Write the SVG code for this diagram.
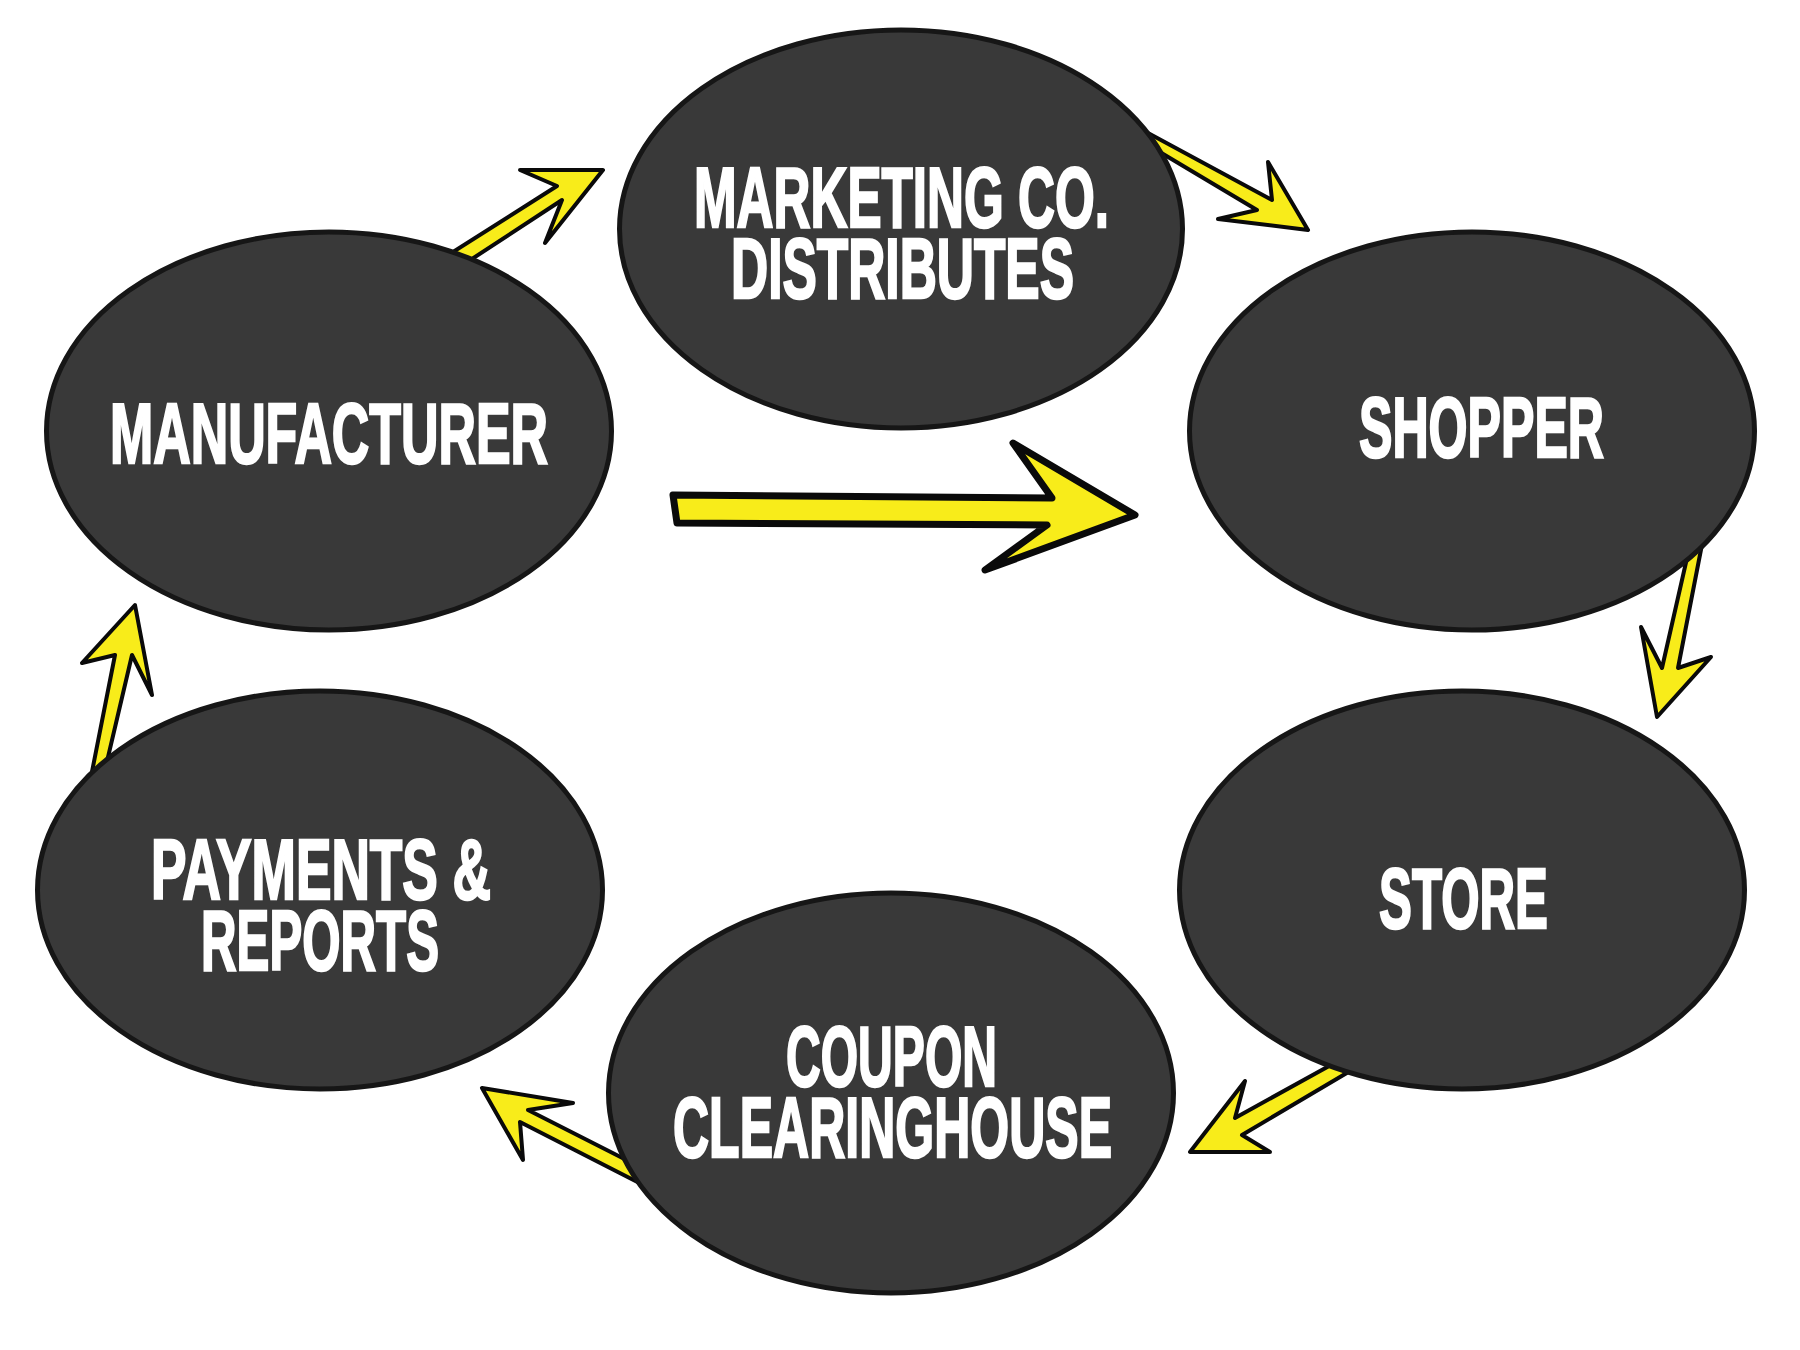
<svg xmlns="http://www.w3.org/2000/svg" width="1800" height="1350" viewBox="0 0 1800 1350">
<style>
.node ellipse{fill:#393939;stroke:#161616;stroke-width:5}
.node text{fill:#ffffff;stroke:#ffffff;stroke-width:2.5;font-family:"Liberation Sans","DejaVu Sans",Arial,sans-serif;font-weight:bold;font-size:86px}
.arr{fill:#f8ec1a;stroke:#0a0a0a;stroke-width:4;stroke-linejoin:round}
.big{stroke-width:7}
</style>
<rect width="1800" height="1350" fill="#ffffff"/>
<g id="connectors">
<polygon class="arr" points="603,170 520,170 557,186 434,264 449,274 562,200 545,243"/>
<polygon class="arr" points="1135,126 1272,200 1268,162 1308,230 1218,219 1257,210 1148,145"/>
<polygon class="arr big" points="673,495 1052,498 1013,443 1135,515 985,570 1047,525 677,523"/>
<polygon class="arr" points="1705,529 1678,668 1711,657 1657,717 1641,627 1662,668 1692,536"/>
<polygon class="arr" points="1349,1055 1235,1118 1245,1081 1190,1152 1270,1152 1242,1135 1362,1064"/>
<polygon class="arr" points="482,1088 573,1103 528,1110 652,1173 655,1191 520,1122 523,1160"/>
<polygon class="arr" points="135,605 152,695 132,655 101,787 89,787 115,655 82,663"/>
</g>
<g id="marketing" class="node">
<ellipse cx="901" cy="229" rx="281.5" ry="199"/>
<text x="694" y="227" textLength="415" lengthAdjust="spacingAndGlyphs">MARKETING CO.</text>
<text x="731" y="298" textLength="343" lengthAdjust="spacingAndGlyphs">DISTRIBUTES</text>
</g>
<g id="manufacturer" class="node">
<ellipse cx="329" cy="431" rx="282.5" ry="199"/>
<text x="110" y="463" textLength="438" lengthAdjust="spacingAndGlyphs">MANUFACTURER</text>
</g>
<g id="shopper" class="node">
<ellipse cx="1472" cy="431" rx="282.5" ry="199"/>
<text x="1359" y="457" textLength="245" lengthAdjust="spacingAndGlyphs">SHOPPER</text>
</g>
<g id="store" class="node">
<ellipse cx="1462" cy="890" rx="282.5" ry="199"/>
<text x="1379" y="928" textLength="169" lengthAdjust="spacingAndGlyphs">STORE</text>
</g>
<g id="coupon" class="node">
<ellipse cx="891" cy="1093" rx="282.5" ry="200"/>
<text x="786" y="1086" textLength="211" lengthAdjust="spacingAndGlyphs">COUPON</text>
<text x="673" y="1157" textLength="439" lengthAdjust="spacingAndGlyphs">CLEARINGHOUSE</text>
</g>
<g id="payments" class="node">
<ellipse cx="320" cy="890" rx="282.5" ry="199"/>
<text x="151" y="899" textLength="340" lengthAdjust="spacingAndGlyphs">PAYMENTS &amp;</text>
<text x="201" y="970" textLength="238" lengthAdjust="spacingAndGlyphs">REPORTS</text>
</g>
</svg>
